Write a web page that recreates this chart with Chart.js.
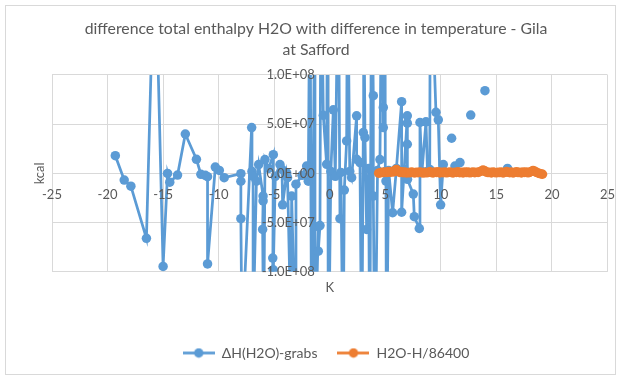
<!DOCTYPE html>
<html><head><meta charset="utf-8">
<script src="https://cdn.jsdelivr.net/npm/chart.js@4.4.1/dist/chart.umd.min.js"></script>
<style>html,body{margin:0;padding:0;background:#fff;}</style>
</head><body>
<canvas id="c" width="621" height="380"></canvas>
<script>
const chartTitle = ['difference total enthalpy H2O with difference in temperature - Gila', 'at Safford'];
const xAxisTitle = 'K';
const yAxisTitle = 'kcal';
const seriesNames = ['ΔH(H2O)-grabs', 'H2O-H/86400'];
const xTickValues = [-25, -20, -15, -10, -5, 0, 5, 10, 15, 20, 25];
const yTickValues = [-1e8, -5e7, 0, 5e7, 1e8];

const grabsX = [-19.3, -18.5, -17.9, -16.5, -15.75, -15.0, -14.6, -14.4, -13.7, -13.0, -12.0, -11.6, -11.2, -11.0, -11.0, -10.3, -9.94, -9.5,
  -8.0, -8.0, -8.0, -7.9, -7.03, -7.0, -6.9, -6.9, -6.6, -6.4, -6.0, -6.0, -6.04, -5.95, -5.83, -5.5, -5.08, -5.15, -5.13, -5.08,
  -4.9, -4.48, -4.3, -4.24, -3.88, -3.8, -3.5, -3.43, -3.1, -3.04, -2.5, -2.08, -1.93, -1.78, -1.63, -1.33, -1.33, -1.03, -1.03, -0.88,
  -0.79, -0.58, -0.28, -0.19, -0.13, 0.1, 0.32, 0.5, 0.77, 0.92, 1.0, 1.2, 1.31, 1.52, 1.6, 1.8, 1.97, 2.42, 2.42, 2.72, 2.88, 3.02,
  3.05, 3.17, 3.32, 3.5, 3.6, 3.77, 3.92, 3.92, 4.07, 4.3, 4.52, 4.67, 4.82, 4.82, 4.97, 5.0, 5.06, 5.1, 5.3, 5.66, 6.0, 6.47, 6.47,
  6.7, 6.98, 6.98, 6.98, 7.0, 7.52, 7.61, 8.06, 8.12, 8.3, 8.66, 8.8, 9.0, 9.05, 9.56, 9.77, 9.98, 10.22, 10.6, 10.97, 11.1, 11.27,
  11.72, 12.2, 12.69, 13.3, 13.97, 15.0, 16.0];
const grabsY = [1.8e7, -6.8e6, -1.3e7, -6.6e7, 2.45e8, -9.45e7, 0, -8.9e6, -1.7e6, 4.0e7, 1.43e7, -1.0e6, -2.0e6, -3.4e6, -9.2e7, 6.4e6, 3.0e6, -4.4e6,
  -3.0e5, -8.0e6, -4.6e7, -1.7e8, 4.66e7, 2.0e6, -3.0e6, -1.6e8, -8.0e6, 9.0e6, -2.3e7, -2.8e7, -5.7e7, -1.8e8, 1.4e7, 5.0e6, 1.9e7, -1.7e8, -8.6e7, -9.8e7,
  -3.0e6, 9.0e6, 4.0e6, -3.2e7, 6.0e5, -4.4e6, -1.6e8, -2.3e7, -1.7e8, -1.1e7, -2.0e6, 7.4e6, -7.9e6, 2.3e8, -2.1e8, 2.2e8, -2.0e8, -5.4e7, -7.9e7, -5.3e7,
  2.5e8, 5.9e7, 9.2e6, 2.4e8, -2.2e8, 2.0e6, 6.46e7, -3.0e6, 2.3e8, -4.6e7, 1.0e6, -2.0e8, -1.7e7, 3.3e7, 2.3e8, 2.0e6, -4.4e6, 5.85e7, 1.43e7, 1.1e7, -2.0e8, 4.15e7,
  2.2e8, 3.64e7, -5.7e7, 5.0e6, -2.1e8, 2.4e8, 7.9e7, -2.3e7, -2.2e8, 3.0e6, 1.4e7, 2.2e8, 6.7e7, 4.66e7, 2.5e8, 2.0e6, -7.8e6, -2.1e8, 3.0e6, -4.0e7, 5.0e6, 7.28e7, -3.95e7,
  4.0e6, 5.85e7, 5.1e7, 2.96e7, -6.0e6, -2.1e7, -4.4e7, -5.6e7, 5.17e7, 2.0e6, 5.24e7, 2.0e6, 4.0e6, 2.3e8, 6.2e7, 5.44e7, -3.2e7, 9.0e6, null, 3.57e7, null, 7.4e6,
  1.1e7, null, 5.92e7, null, 8.4e7, null, 5.0e6];

const hourlyX = [4.4, 4.55, 4.7, 4.85, 5.0, 5.15, 5.3, 5.45, 5.6, 5.75, 5.9, 6.0, 6.15, 6.3, 6.45, 6.6, 6.75, 6.9, 7.05, 7.2,
  7.35, 7.5, 7.65, 7.8, 7.95, 8.1, 8.25, 8.4, 8.55, 8.7, 8.85, 9.0, 9.15, 9.3, 9.45, 9.6, 9.75, 9.9, 10.05, 10.2,
  10.35, 10.5, 10.65, 10.8, 10.95, 11.1, 11.25, 11.4, 11.55, 11.7, 11.85, 12.0, 12.15, 12.3, 12.45, 12.6, 12.75, 12.9, 13.05, 13.2,
  13.35, 13.5, 13.65, 13.8, 13.95, 14.1, 14.25, 14.4, 14.55, 14.7, 14.85, 15.0, 15.15, 15.3, 15.45, 15.6, 15.75, 15.9, 16.05, 16.2,
  16.35, 16.5, 16.65, 16.8, 16.95, 17.1, 17.25, 17.4, 17.55, 17.7, 17.85, 18.0, 18.15, 18.3, 18.45, 18.6, 18.75, 18.9, 19.05, 19.15];
const hourlyY = [2e5, 6e5, 1.2e6, 8e5, 1.5e6, 9e5, 1.8e6, 1.1e6, 2.0e6, 1.4e6, 3.2e6, 4.0e6, 2.2e6, 1.0e6, 1.6e6, 7e5, 1.3e6, 5e5, 1.0e6, 6e5,
  1.4e6, 8e5, 4e5, 1.1e6, 7e5, 1.5e6, 9e5, 3e5, 1.2e6, 6e5, 1.0e6, 1.7e6, 8e5, 4e5, 1.3e6, 9e5, 1.6e6, 5e5, 1.1e6, 7e5,
  1.4e6, 6e5, 1.0e6, 1.5e6, 8e5, 4e5, 1.2e6, 9e5, 1.6e6, 7e5, 1.1e6, 5e5, 1.3e6, 8e5, 1.5e6, 6e5, 1.0e6, 1.4e6, 7e5, 1.2e6,
  9e5, 1.7e6, 2.4e6, 3.4e6, 2.6e6, 1.3e6, 8e5, 1.1e6, 5e5, 1.4e6, 9e5, 6e5, 1.2e6, 8e5, 1.5e6, 5e5, 1.0e6, 1.8e6, 1.2e6, 7e5,
  1.3e6, 4e5, 1.0e6, 1.6e6, 8e5, 1.1e6, 5e5, 1.3e6, 9e5, 1.5e6, 6e5, 1.2e6, 2.0e6, 3.0e6, 2.2e6, 1.1e6, 4e5, -2e5, -6e5, -9e5];

const BLUE = '#5B9BD5', ORANGE = '#ED7D31', TEXT = '#595959', GRID = '#D9D9D9';

function fmtExp(v) {
  const s = Number(v).toExponential(1);
  const parts = s.split('e');
  let e = parseInt(parts[1], 10);
  const sign = e < 0 ? '-' : '+';
  e = Math.abs(e);
  return parts[0] + 'E' + sign + (e < 10 ? '0' + e : '' + e);
}

function legendIcon(color) {
  const cv = document.createElement('canvas');
  cv.width = 32; cv.height = 11;
  const g = cv.getContext('2d');
  g.strokeStyle = color; g.lineWidth = 2.75;
  g.beginPath(); g.moveTo(0, 5.5); g.lineTo(32, 5.5); g.stroke();
  g.fillStyle = color;
  g.beginPath(); g.arc(16, 5.5, 4.75, 0, Math.PI * 2); g.fill();
  return cv;
}
const icons = [legendIcon(BLUE), legendIcon(ORANGE)];

const layoutPlugin = {
  id: 'excelLayout',
  beforeDraw(chart) {
    const c = chart.ctx;
    c.save();
    c.fillStyle = '#ffffff';
    c.fillRect(0, 0, chart.width, chart.height);
    c.strokeStyle = GRID; c.lineWidth = 1;
    c.strokeRect(5.5, 5.5, chart.width - 11, chart.height - 11);
    c.restore();
  },
  afterLayout(chart) {
    // value-axis labels sit just left of x = 0, where the axis crosses
    const s = chart.scales.yl;
    const x0 = chart.scales.x.getPixelForValue(0);
    s.left = x0 - 80; s.right = x0; s.width = 80;
    if (chart.legend) { chart.legend.left += 10; chart.legend.right += 10; }
  }
};

Chart.defaults.font.family = 'Lato, "Open Sans", sans-serif';
Chart.defaults.color = TEXT;

const setTicks = (vals) => (scale) => { scale.ticks = vals.map(v => ({ value: v })); };
const noSidePadding = (s) => { s.paddingLeft = 0; s.paddingRight = 0; };

new Chart(document.getElementById('c'), {
  type: 'scatter',
  data: {
    datasets: [
      {
        label: seriesNames[0],
        data: grabsX.map((x, i) => ({ x: x, y: grabsY[i] })),
        showLine: true, borderColor: BLUE, backgroundColor: BLUE, borderWidth: 2.75,
        pointRadius: 4.75, pointBorderWidth: 0, pointHoverRadius: 4.75, tension: 0, spanGaps: false,
        order: 2
      },
      {
        label: seriesNames[1],
        data: hourlyX.map((x, i) => ({ x: x, y: hourlyY[i] })),
        showLine: true, borderColor: ORANGE, backgroundColor: ORANGE, borderWidth: 2.75,
        pointRadius: 4.75, pointBorderWidth: 0, pointHoverRadius: 4.75, tension: 0,
        order: 1
      }
    ]
  },
  options: {
    responsive: false, animation: false, devicePixelRatio: 1,
    layout: { padding: { left: 24.5, right: 13.5, top: 0, bottom: 10 } },
    scales: {
      x: {
        type: 'linear', position: { y: 0 }, min: -25, max: 25,
        afterBuildTicks: setTicks(xTickValues),
        afterFit: noSidePadding,
        grid: { color: GRID, lineWidth: 1, drawTicks: false },
        border: { color: GRID, width: 1 },
        ticks: { display: false }
      },
      y: {
        type: 'linear', position: { x: 0 }, min: -1e8, max: 1e8,
        afterBuildTicks: setTicks(yTickValues),
        grid: { color: GRID, lineWidth: 1, drawTicks: false },
        border: { color: GRID, width: 1 },
        ticks: { display: false }
      },
      xl: {
        type: 'linear', axis: 'x', position: { y: 0 }, min: -25, max: 25,
        afterBuildTicks: setTicks(xTickValues),
        afterFit: noSidePadding,
        grid: { display: false, drawTicks: false },
        border: { display: false },
        ticks: { z: 1, padding: 14, font: { size: 13 }, color: TEXT, maxRotation: 0, autoSkip: false }
      },
      yl: {
        type: 'linear', axis: 'y', position: 'left', min: -1e8, max: 1e8,
        afterBuildTicks: setTicks(yTickValues),
        afterFit: (s) => { s.width = 0; },
        grid: { display: false, drawTicks: false },
        border: { display: false },
        ticks: { z: 1, padding: 15, font: { size: 13 }, color: TEXT, autoSkip: false, callback: (v) => fmtExp(v) }
      },
      xt: {
        type: 'linear', axis: 'x', position: 'bottom', min: 0, max: 1,
        afterFit: noSidePadding,
        grid: { display: false, drawTicks: false }, border: { display: false },
        ticks: { display: false },
        title: { display: true, text: xAxisTitle, color: TEXT, font: { size: 13 }, padding: { top: 8.2, bottom: 30.4 } }
      },
      yt: {
        type: 'linear', axis: 'y', position: 'left', min: 0, max: 1,
        grid: { display: false, drawTicks: false }, border: { display: false },
        ticks: { display: false },
        title: { display: true, text: yAxisTitle, color: TEXT, font: { size: 13 }, padding: { top: 7.7, bottom: 4.2 } }
      }
    },
    plugins: {
      title: {
        display: true, text: chartTitle, color: TEXT,
        font: { size: 15.8, weight: 'normal', lineHeight: 1.35 },
        padding: { top: 18, bottom: 14.3 }
      },
      legend: {
        display: true, position: 'bottom',
        labels: {
          usePointStyle: true, pointStyleWidth: 32, padding: 20, color: TEXT,
          font: { size: 14 },
          sort: (a, b) => a.datasetIndex - b.datasetIndex,
          generateLabels: (chart) => {
            const items = Chart.defaults.plugins.legend.labels.generateLabels(chart);
            items.forEach(it => { it.pointStyle = icons[it.datasetIndex]; });
            return items;
          }
        }
      },
      tooltip: { enabled: false }
    }
  },
  plugins: [layoutPlugin]
});
</script>
</body></html>
